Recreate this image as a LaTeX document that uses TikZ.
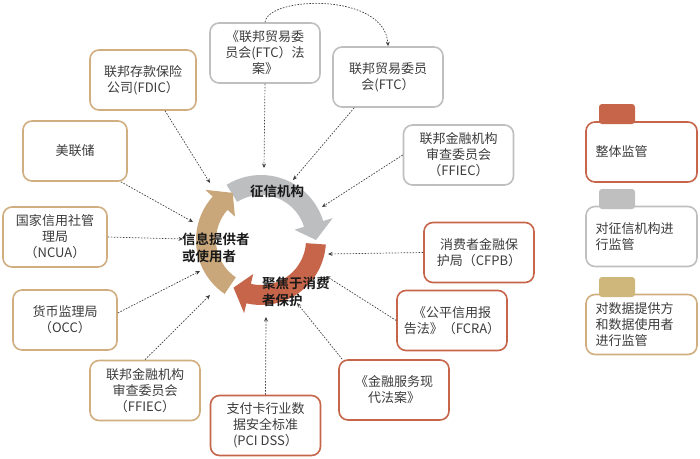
\documentclass[tikz,border=0pt]{standalone}
\usepackage{fontspec}
\setmainfont{Noto Sans CJK SC}[BoldFont={Noto Sans CJK SC Bold}]
\usetikzlibrary{arrows.meta,calc}
\definecolor{cOr}{HTML}{C6654A}
\definecolor{cGr}{HTML}{BFBFBF}
\definecolor{cGrArc}{HTML}{BDBEC0}
\definecolor{cTn}{HTML}{D0AE80}
\definecolor{cTnArc}{HTML}{C9A77A}
\definecolor{cTab}{HTML}{CFB77C}
\definecolor{cTxt}{HTML}{3C3C3C}
\definecolor{cConn}{HTML}{404040}
\newcommand\cyclearrow[4]{%
  \fill[#1] ($(cc)+(#2:65)$) arc[start angle=#2, end angle=#3, radius=65]
    -- ($(cc)+(#3:75)$) -- ($(cc)+(#4:55)$) -- ($(cc)+(#3:35)$)
    -- ($(cc)+(#3:45)$) arc[start angle=#3, end angle=#2, radius=45] -- cycle;}
\tikzset{
  box/.style={draw, rounded corners=9pt, line width=1.6pt, fill=white, align=center,
    text=cTxt, inner sep=2pt, minimum width=110pt, minimum height=60pt,
    font=\fontsize{13}{16}\selectfont},
  orbox/.style={box, draw=cOr},
  grbox/.style={box, draw=cGr},
  tnbox/.style={box, draw=cTn},
  legbox/.style={box, minimum width=111pt, text width=92pt, align=left, inner xsep=9pt},
  legtab/.style={fill=#1, rounded corners=3pt, minimum width=36pt, minimum height=20pt, inner sep=0pt},
  conn/.style={draw=cConn, line width=0.7pt, dash pattern=on 1.6pt off 1.4pt,
    -{Stealth[length=4.5pt,width=4pt]}},
  lbl/.style={font=\fontsize{13.5}{16.5}\selectfont\bfseries, text=black!90, inner sep=0pt, align=left}
}
\begin{document}
\begin{tikzpicture}[x=1pt,y=-1pt]
\useasboundingbox (0,0) rectangle (700,458);
\coordinate (cc) at (261,240);
% cycle
\cyclearrow{cGrArc}{-122}{-17}{0}
\cyclearrow{cOr}{4}{103}{120}
\cyclearrow{cTnArc}{124}{222}{239}
% boxes
\node[grbox] (law) at (265,53) {《联邦贸易委\\员会(FTC）法\\案》};
\node[grbox] (ftc) at (388,77) {联邦贸易委员\\会(FTC）};
\node[grbox] (ffr) at (458.5,155) {联邦金融机构\\审查委员会\\（FFIEC）};
\node[tnbox, minimum width=106pt] (fdic) at (143,80) {联邦存款保险\\公司(FDIC）};
\node[tnbox, minimum width=104pt] (fed) at (75,151) {美联储};
\node[tnbox, minimum width=104pt] (ncua) at (55,237) {国家信用社管\\理局\\（NCUA）};
\node[tnbox, minimum width=104pt] (occ) at (65,320) {货币监理局\\（OCC）};
\node[tnbox] (ffl) at (145,390.5) {联邦金融机构\\审查委员会\\（FFIEC）};
\node[orbox] (pci) at (265.5,425.5) {支付卡行业数\\据安全标准\\(PCI DSS）};
\node[orbox] (glba) at (394,390) {《金融服务现\\代法案》};
\node[orbox] (fcra) at (452,320.5) {《公平信用报\\告法》（FCRA）};
\node[orbox] (cfpb) at (479,252.5) {消费者金融保\\护局（CFPB）};
% legend
\node[legbox, draw=cOr] (l1) at (641.5,152) {整体监管};
\node[legtab=cOr] (t1) at (617,114) {};
\node[legbox, draw=cGr] (l2) at (641.5,236.5) {对征信机构进\\行监管};
\node[legtab=cGr] (t2) at (617,199) {};
\node[legbox, draw=cTn] (l3) at (641.5,324.5) {对数据提供方\\和数据使用者\\进行监管};
\node[legtab=cTab] (t3) at (617,287) {};
% connector ends
\coordinate (e1) at (264,168);
\coordinate (e2) at (293,180);
\coordinate (e3) at (322,207);
\coordinate (e4) at (328,254);
\coordinate (e5) at (326,276);
\coordinate (e6) at (297,303);
\coordinate (e7) at (266,317);
\coordinate (e8) at (210,295);
\coordinate (e9) at (200,271);
\coordinate (e10) at (183,239);
\coordinate (e11) at (193,222);
\coordinate (e12) at (210,183);
% connectors
\draw[conn] (law.south) -- (e1);
\draw[conn] (law.north) .. controls (268,-4) and (385,-8) .. (ftc.north);
\draw[conn] ([xshift=22pt]ftc.south west) -- (e2);
\draw[conn] (ffr.west) -- (e3);
\draw[conn] (cfpb.west) -- (e4);
\draw[conn] (fcra.west) -- (e5);
\draw[conn] ([xshift=4pt]glba.north west) -- (e6);
\draw[conn] (pci.north) -- (e7);
\draw[conn] (ffl.north) -- (e8);
\draw[conn] ([yshift=7pt]occ.east) -- (e9);
\draw[conn] (ncua.east) -- (e10);
\draw[conn] ([xshift=-7pt]fed.south east) -- (e11);
\draw[conn] ([xshift=22pt]fdic.south) -- (e12);
% cycle labels
\node[lbl] (lz) at (277,191) {征信机构};
\node[lbl, anchor=west] (lx) at (182,248) {信息提供者\\或使用者};
\node[lbl, anchor=west] (lj) at (262,292) {聚焦于消费\\者保护};
\end{tikzpicture}
\end{document}
